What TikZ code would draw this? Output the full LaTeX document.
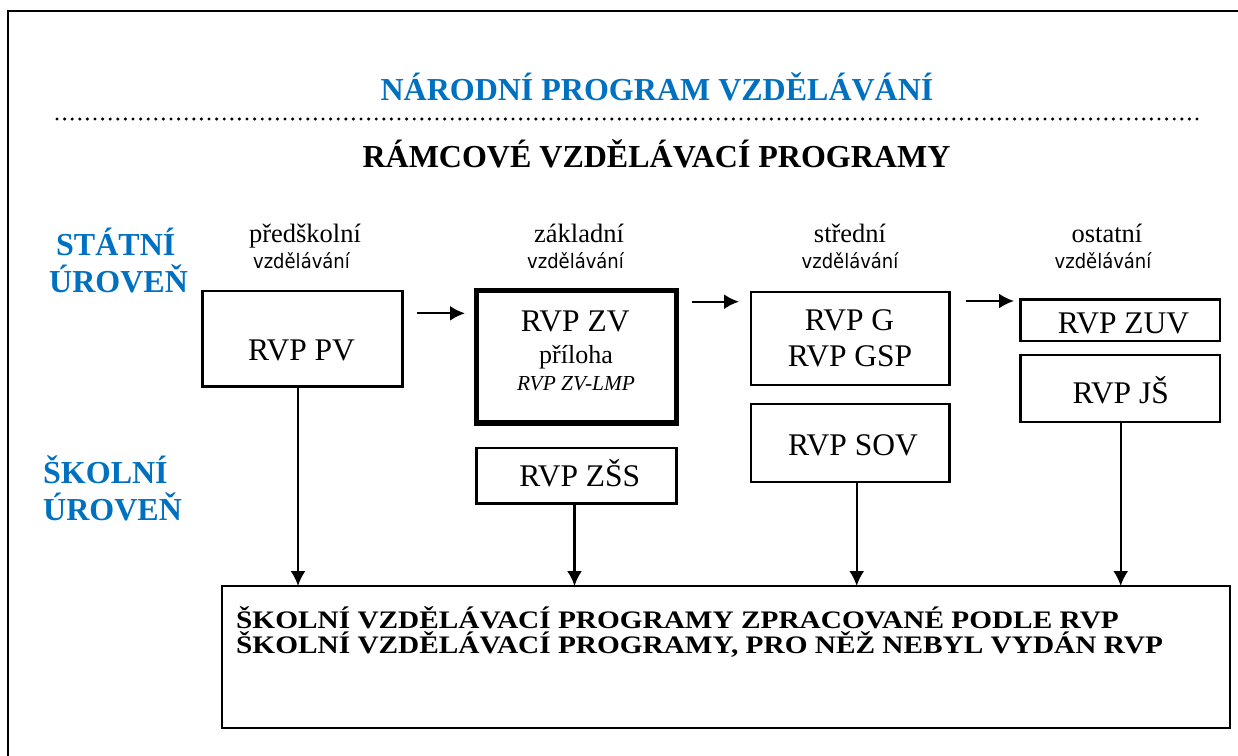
\documentclass[tikz,border=0pt]{standalone}
\usepackage{fontspec}
\setmainfont{Liberation Serif}
\newfontfamily\tahoma[FakeStretch=0.9]{DejaVu Sans}
\usetikzlibrary{arrows.meta}
\definecolor{nblue}{RGB}{0,112,192}
\newcommand\setfs[1]{\fontsize{#1pt}{#1pt}\selectfont}
\begin{document}
\begin{tikzpicture}[x=1pt,y=-1pt,
  box/.style={draw, line width=2.5pt, inner sep=0pt, outer sep=0pt},
  thickbox/.style={box, line width=5.5pt},
  lbl/.style={anchor=base, inner sep=0pt, outer sep=0pt},
  boxtxt/.style={lbl, font=\setfs{31.5}},
  head/.style={lbl, font=\setfs{26.5}},
  sub/.style={lbl, font=\tahoma\setfs{20}},
  level/.style={anchor=base west, inner sep=0pt, text=nblue, font=\setfs{32}\bfseries},
  bigtxt/.style={anchor=base west, inner sep=0pt, font=\setfs{29.3}\bfseries},
  arr/.style={line width=2.2pt, -{Latex[length=15pt,width=15pt]}}]
\useasboundingbox (0,0) rectangle (1238,755);
\clip (0,0) rectangle (1238,755);
% frame
\draw[line width=2.7pt] (8,770) -- (8,11) -- (1250,11);
% titles
\node[lbl, text=nblue, font=\setfs{32}\bfseries] (t1) at (657,100) {NÁRODNÍ PROGRAM VZDĚLÁVÁNÍ};
\coordinate (d1) at (57,119);
\coordinate (d2) at (1199,119);
\draw[line width=3.4pt, dash pattern=on 0pt off 7.6pt, line cap=round] (d1) -- (d2);
\node[lbl, font=\setfs{32}\bfseries] (t2) at (656.5,167.5) {RÁMCOVÉ VZDĚLÁVACÍ PROGRAMY};
% levels
\node[level] (st1) at (56,255) {STÁTNÍ};
\node[level] (st2) at (49,292) {ÚROVEŇ};
\node[level] (sk1) at (43,483) {ŠKOLNÍ};
\node[level] (sk2) at (43,520) {ÚROVEŇ};
% column heads
\node[head] (h1) at (305,242) {předškolní};
\node[sub] (h1b) at (301.5,268) {vzdělávání};
\node[head] (h2) at (579,242) {základní};
\node[sub] (h2b) at (575.5,268) {vzdělávání};
\node[head] (h3) at (850,242) {střední};
\node[sub] (h3b) at (850,268) {vzdělávání};
\node[head] (h4) at (1107,242) {ostatní};
\node[sub] (h4b) at (1103,268) {vzdělávání};
% boxes
\node[box, minimum width=200.2pt, minimum height=95.5pt] (pv) at (302.4,338.55) {};
\node[boxtxt] at (301.5,360) {RVP PV};
\node[thickbox, minimum width=200.2pt, minimum height=132.5pt] (zv) at (576.4,356.75) {};
\node[boxtxt] at (575.3,331) {RVP ZV};
\node[lbl, font=\setfs{26}] at (576,363.3) {příloha};
\node[lbl, font=\setfs{21.4}\itshape] at (576,390.7) {RVP ZV-LMP};
\node[box, minimum width=199.8pt, minimum height=55.5pt] (zss) at (576.4,475.55) {};
\node[boxtxt] at (579.8,486.7) {RVP ZŠS};
\node[box, minimum width=198.3pt, minimum height=93.2pt] (g) at (850.35,338.4) {};
\node[boxtxt] at (849.5,330) {RVP G};
\node[boxtxt] at (850,366.7) {RVP GSP};
\node[box, minimum width=198.3pt, minimum height=78.4pt] (sov) at (850.35,443) {};
\node[boxtxt] at (853,455) {RVP SOV};
\node[box, minimum width=199.7pt, minimum height=41.7pt] (zuv) at (1120.35,320.35) {};
\node[boxtxt] at (1123.5,333.3) {RVP ZUV};
\node[box, minimum width=199.7pt, minimum height=67pt] (js) at (1120.35,388.7) {};
\node[boxtxt] at (1120.7,403.3) {RVP JŠ};
\node[box, minimum width=1008pt, minimum height=142pt] (bot) at (726,657) {};
\node[bigtxt] (bt1) at (236,628.3)
  {\scalebox{1}[0.86]{ŠKOLNÍ VZDĚLÁVACÍ PROGRAMY ZPRACOVANÉ PODLE RVP}};
\node[bigtxt] (bt2) at (236,653.8)
  {\scalebox{1}[0.86]{ŠKOLNÍ VZDĚLÁVACÍ PROGRAMY, PRO NĚŽ NEBYL VYDÁN RVP}};
% horizontal arrows
\coordinate (a1s) at (417,313.3); \coordinate (a1e) at (465,313.3);
\coordinate (a2s) at (691.7,301.7); \coordinate (a2e) at (739,301.7);
\coordinate (a3s) at (965.7,301); \coordinate (a3e) at (1014,301);
\draw[arr] (a1s) -- (a1e);
\draw[arr] (a2s) -- (a2e);
\draw[arr] (a3s) -- (a3e);
% vertical arrows
\draw[arr] ([xshift=-4.4pt]pv.south) -- ([xshift=-4.4pt]pv.south |- bot.north);
\draw[arr] ([xshift=-1.9pt]zss.south) -- ([xshift=-1.9pt]zss.south |- bot.north);
\draw[arr] ([xshift=6.35pt]sov.south) -- ([xshift=6.35pt]sov.south |- bot.north);
\draw[arr] ([xshift=0.35pt]js.south) -- ([xshift=0.35pt]js.south |- bot.north);
\end{tikzpicture}
\end{document}
